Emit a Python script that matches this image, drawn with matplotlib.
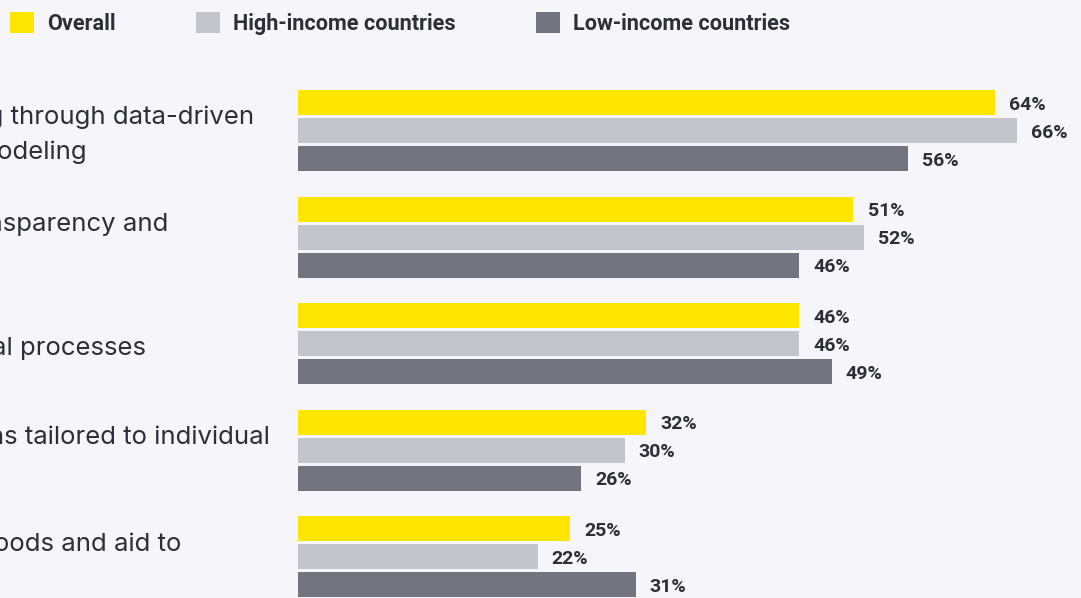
import numpy as np
import matplotlib.pyplot as plt
from matplotlib.patches import Patch

categories = [
    "Enhancing decision-making through data-driven\nindicators and predictive modeling",
    "Increasing government transparency and\naccountability",
    "Streamlining key operational processes",
    "Developing custom solutions tailored to individual\nneeds",
    "Improving the delivery of goods and aid to\nthose in need",
]
series_names = ["Overall", "High-income countries", "Low-income countries"]
overall = [64, 51, 46, 32, 25]
high_income = [66, 52, 46, 30, 22]
low_income = [56, 46, 49, 26, 31]

colors = ["#FFE600", "#C4C4CD", "#747480"]
bg = "#F6F6FA"
txt = "#2E2E38"

plt.rcParams['font.family'] = ['Roboto', 'DejaVu Sans']
label_font = dict(family=['Inter', 'DejaVu Sans'], fontsize=18.5,
                  fontweight='normal', color=txt)

fig = plt.figure(figsize=(10.81, 5.98), dpi=100, facecolor=bg)
ax = fig.add_axes([298 / 1081, 0, 1 - 298 / 1081, 1])
ax.set_facecolor(bg)
px = 10.89  # pixels per percentage point

# one group = 106.5 px; bar pitch 28 px, bar height 25 px
pitch = 28 / 106.5
bh = 25 / 106.5
y = np.arange(len(categories))
for k, vals in enumerate([overall, high_income, low_income]):
    pos = y + (k - 1) * pitch
    ax.barh(pos, vals, height=bh, color=colors[k], linewidth=0)
    for p, v in zip(pos, vals):
        ax.text(v + 1.3, p + 0.02, f"{v}%", va='center', ha='left',
                fontsize=14, fontweight='bold', color=txt)

# the chart is cropped on the left: labels start off-canvas, first line
# of the first label ends about 44 px before the bars
fig.canvas.draw()
r = fig.canvas.get_renderer()
tmp = fig.text(0, 0, categories[0].split("\n")[0], **label_font)
w = tmp.get_window_extent(r).width
tmp.remove()
x_left = (254 - w - 298) / px

for i, c in enumerate(categories):
    ax.text(x_left, i + 0.04, c, va='center', ha='left',
            linespacing=1.6, clip_on=False, **label_font)

ax.set_xlim(0, (1081 - 298) / px)
ax.set_ylim((598 - 130.5) / 106.5, -130.5 / 106.5)
ax.axis('off')

handles = [Patch(facecolor=c, edgecolor='none') for c in colors]
fig.legend(handles, series_names, loc='upper left',
           bbox_to_anchor=(10 / 1081, 1 - 12 / 598),
           ncol=3, frameon=False, handlelength=1.1, handleheight=1.1,
           handletextpad=0.62, columnspacing=3.7, borderaxespad=0,
           borderpad=0, prop={'weight': 'bold', 'size': 15.6}, labelcolor=txt)

fig.savefig('out.png', dpi=100, facecolor=bg)
